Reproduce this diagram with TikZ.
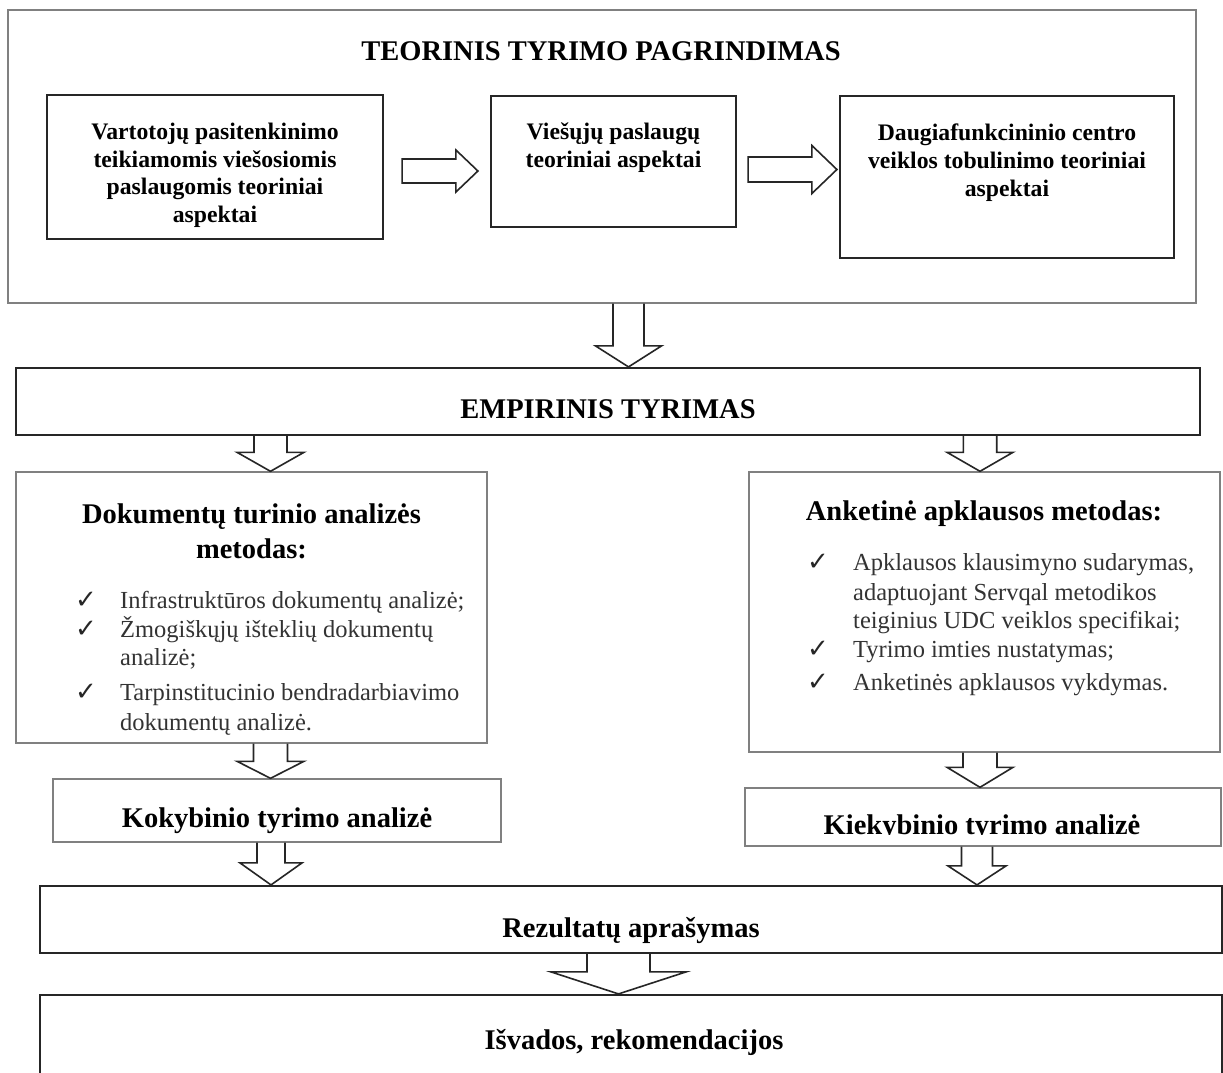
\documentclass[tikz,border=0pt]{standalone}
\usepackage{fontspec}
\setmainfont{Liberation Serif}
\newfontfamily\symfont{DejaVu Sans}
\usetikzlibrary{calc}

% hollow block arrow from #1 to #2: shaft half width #3, head half width #4,
% head length #5; #6 closes the tail (-- cycle) or leaves it open (empty)
\newcommand\fatarrow[6]{%
  \path[fat] let \p1=#1, \p2=#2, \n1={atan2(\y2-\y1,\x2-\x1)}, \n2={veclen(\x2-\x1,\y2-\y1)} in
    [shift={(\p1)}, rotate=\n1]
    (0,#3) -- ({\n2-#5},#3) -- ({\n2-#5},#4) -- (\n2,0) -- ({\n2-#5},-#4) -- ({\n2-#5},-#3) -- (0,-#3) #6;
}

\begin{document}
\begin{tikzpicture}[x=1pt,y=-1pt,
  thickbox/.style={draw=black!85, line width=2.2pt, inner sep=0pt},
  thinbox/.style={draw=black!50, line width=1.4pt, inner sep=0pt},
  head/.style={font=\fontsize{28.5}{35}\selectfont\bfseries, align=center, inner sep=0pt, anchor=base},
  boxtext/.style={font=\fontsize{23.7}{27.7}\selectfont\bfseries, align=center, inner sep=0pt, anchor=base},
  itemtext/.style={font=\fontsize{24.5}{29}\selectfont, text=black!80, inner sep=0pt, anchor=base west},
  tick/.style={font=\symfont\fontsize{26}{26}\selectfont, text=black!85, inner sep=0pt, anchor=base},
  fat/.style={draw=black!85, line width=1.6pt, line join=miter},
]
\fill[white] (0,0) rectangle (1223,1072);
\useasboundingbox (0,0) rectangle (1223,1072);

% theoretical part
\node[thinbox, minimum width=1188, minimum height=293] (outer) at (602,156.5) {};
\node[head] (ttl) at (601,60) {TEORINIS TYRIMO PAGRINDIMAS};
\node[thickbox, minimum width=336, minimum height=144] (b1) at (215,167) {};
\node[thickbox, minimum width=245, minimum height=131] (b2) at (613.5,161.5) {};
\node[thickbox, minimum width=334, minimum height=162] (b3) at (1007,177) {};
% multi-line texts are placed by the baseline of their last line
\node[boxtext] (b1t) at (215,222.5) {Vartotojų pasitenkinimo\\teikiamomis viešosiomis\\paslaugomis teoriniai\\aspektai};
\node[boxtext] (b2t) at (613.5,167.5) {Viešųjų paslaugų\\teoriniai aspektai};
\node[boxtext] (b3t) at (1007,196) {Daugiafunkcininio centro\\veiklos tobulinimo teoriniai\\aspektai};

% empirical part
\node[thickbox, minimum width=1184, minimum height=67] (emp) at (608,401.5) {};
\node[head] (empt) at (608,418) {EMPIRINIS TYRIMAS};

\node[thinbox, minimum width=471, minimum height=271] (doc) at (251.5,607.5) {};
\node[head] (doct) at (251.5,558) {Dokumentų turinio analizės\\metodas:};
\node[tick] (dk1) at (86,608) {✓};
\node[tick] (dk2) at (86,637) {✓};
\node[tick] (dk3) at (86,700) {✓};
\node[itemtext] (dl1) at (120,608) {Infrastruktūros dokumentų analizė;};
\node[itemtext] (dl2) at (120,637) {Žmogiškųjų išteklių dokumentų};
\node[itemtext] (dl3) at (120,665) {analizė;};
\node[itemtext] (dl4) at (120,700) {Tarpinstitucinio bendradarbiavimo};
\node[itemtext] (dl5) at (120,730) {dokumentų analizė.};

\node[thinbox, minimum width=471, minimum height=280] (ank) at (984.5,612) {};
\node[head] (ankt) at (984,520) {Anketinė apklausos metodas:};
\node[tick] (ak1) at (818,570) {✓};
\node[tick] (ak2) at (818,657) {✓};
\node[tick] (ak3) at (818,690) {✓};
\node[itemtext] (al1) at (853,570) {Apklausos klausimyno sudarymas,};
\node[itemtext] (al2) at (853,600) {adaptuojant Servqal metodikos};
\node[itemtext] (al3) at (853,628) {teiginius UDC veiklos specifikai;};
\node[itemtext] (al4) at (853,657) {Tyrimo imties nustatymas;};
\node[itemtext] (al5) at (853,690) {Anketinės apklausos vykdymas.};

\node[thinbox, minimum width=448, minimum height=63] (kok) at (277,810.5) {};
\node[head] (kokt) at (277,827) {Kokybinio tyrimo analizė};
\node[thinbox, minimum width=476, minimum height=58] (kiek) at (983,817) {};
\begin{scope}
  \clip (745,788) rectangle (1221,834);
  \node[head] (kiekt) at (982,834) {Kiekybinio tyrimo analizė};
\end{scope}

\node[thickbox, minimum width=1182, minimum height=67] (rez) at (631,919.5) {};
\node[head] (rezt) at (631,937) {Rezultatų aprašymas};
\node[thickbox, minimum width=1182, minimum height=92] (isv) at (631,1041) {};
\node[head] (isvt) at (634,1049) {Išvados, rekomendacijos};

% block arrows
\coordinate (h1) at (0,171);
\coordinate (h2) at (0,169.5);
\fatarrow{($(b1.east |- h1)+(18,0)$)}{($(b2.west |- h1)+(-12,0)$)}{12}{21}{22}{-- cycle}
\fatarrow{($(b2.east |- h2)+(11,0)$)}{($(b3.west |- h2)+(-2,0)$)}{12.5}{24}{25}{-- cycle}

\coordinate (v0) at (628.5,0);
\coordinate (vl) at (270.5,0);
\coordinate (vr) at (980,0);
\coordinate (vl3) at (271,0);
\coordinate (vr3) at (977,0);
\coordinate (vb) at (618.5,0);
\fatarrow{(v0 |- outer.south)}{(v0 |- emp.north)}{15.5}{33}{21}{}
\fatarrow{(vl |- emp.south)}{(vl |- doc.north)}{16.5}{33.5}{19}{}
\fatarrow{(vr |- emp.south)}{(vr |- ank.north)}{16.7}{33}{19}{}
\fatarrow{(vl |- doc.south)}{(vl |- kok.north)}{17}{33.5}{17}{}
\fatarrow{(vr |- ank.south)}{(vr |- kiek.north)}{17}{33}{20}{}
\fatarrow{(vl3 |- kok.south)}{(vl3 |- rez.north)}{14}{31}{22}{}
\fatarrow{(vr3 |- kiek.south)}{(vr3 |- rez.north)}{15.5}{29}{19}{}
\fatarrow{(vb |- rez.south)}{(vb |- isv.north)}{31.5}{67.5}{22}{}
\end{tikzpicture}
\end{document}
